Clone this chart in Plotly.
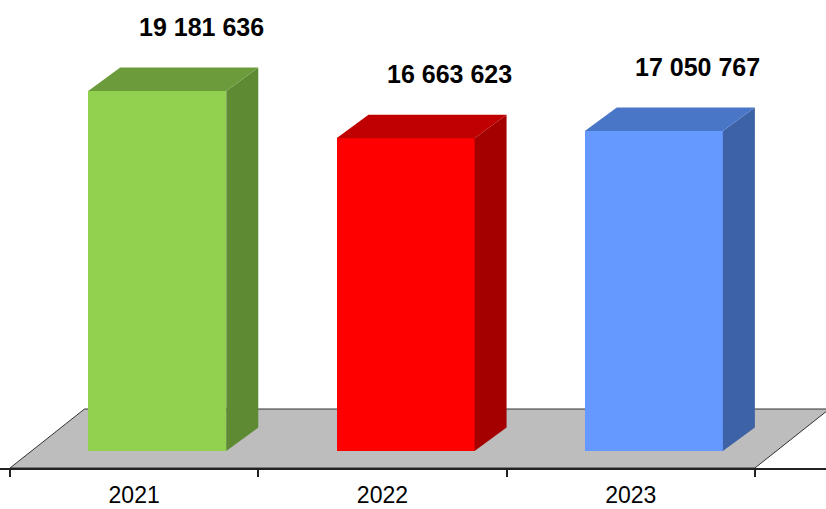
import plotly.graph_objects as go

# ---- data ----
years = ["2021", "2022", "2023"]
values = [19181636, 16663623, 17050767]
front_colors = ["#92D050", "#FF0000", "#6699FF"]
top_colors = ["#6B9B3A", "#C00000", "#4A76C8"]
side_colors = ["#5E8A33", "#A50000", "#3D62A6"]

# ---- geometry (axis units) ----
W, H = 826, 509
CAT_PX = 248.3                      # pixels per category
K = max(values) / 360.0             # value units per vertical pixel
x_range = [-0.5 - 10 / CAT_PX, (W - 10) / CAT_PX - 0.5]
y_range = [-17 * K, 451 * K]

shift = 0.093                       # bar front face shift to the right (depth)
bw = 0.556                          # front face width
dx = 32 / CAT_PX                    # depth offset (x)
dy = 23.5 * K                       # depth offset (y)
floor_front = y_range[0]
floor_back = 42 * K
floor_dx = 0.30

fig = go.Figure()

# front faces
fig.add_trace(go.Bar(
    x=[i + shift for i in range(len(years))], y=values, base=0, width=bw,
    marker=dict(color=front_colors, line=dict(width=0)),
    hoverinfo="skip", showlegend=False))

# side and top faces
for i, v in enumerate(values):
    xl = i + shift - bw / 2
    xr = i + shift + bw / 2
    fig.add_trace(go.Scatter(
        x=[xr, xr + dx, xr + dx, xr, xr], y=[0, dy, v + dy, v, 0],
        fill="toself", fillcolor=side_colors[i], mode="lines",
        line=dict(width=0, color=side_colors[i]), hoverinfo="skip", showlegend=False))
    fig.add_trace(go.Scatter(
        x=[xl, xr, xr + dx, xl + dx, xl], y=[v, v, v + dy, v + dy, v],
        fill="toself", fillcolor=top_colors[i], mode="lines",
        line=dict(width=0, color=top_colors[i]), hoverinfo="skip", showlegend=False))
    fig.add_annotation(
        x=i + shift + 44 / CAT_PX, y=v + 64 * K, text=f"{v:,}".replace(",", " "),
        showarrow=False, xanchor="center", yanchor="middle",
        font=dict(family="Liberation Sans, Arial", size=25, color="black", weight="bold"))

# floor
x0, x1 = -0.5, len(years) - 0.5
path = (f"M {x0},{floor_front} L {x1},{floor_front} "
        f"L {x1 + floor_dx},{floor_back} L {x0 + floor_dx},{floor_back} Z")
fig.add_shape(type="path", path=path, xref="x", yref="y", layer="below",
              fillcolor="#BDBDBD", line=dict(color="#333333", width=1))

fig.update_layout(
    width=W, height=H, autosize=False,
    margin=dict(l=0, r=0, t=0, b=H - 468, pad=0),
    paper_bgcolor="white", plot_bgcolor="rgba(0,0,0,0)",
    bargap=0,
    xaxis=dict(range=x_range, tickvals=list(range(len(years))), ticktext=years,
               ticks="", showgrid=False, zeroline=False, showline=True,
               linecolor="#222222", linewidth=2, ticklabelstandoff=5,
               automargin=False,
               tickfont=dict(family="Liberation Sans, Arial", size=23, color="black"),
               minor=dict(tickvals=[-0.5, 0.5, 1.5, 2.5], ticks="outside",
                          ticklen=7, tickwidth=2, tickcolor="#222222", showgrid=False)),
    yaxis=dict(range=y_range, visible=False, showgrid=False, zeroline=False,
               automargin=False),
)

post = ("document.documentElement.style.margin='0';"
        "document.documentElement.style.overflow='hidden';"
        "document.body.style.margin='0';"
        "document.body.style.overflow='hidden';")
fig.write_html("out.html", config={"displayModeBar": False}, post_script=post)
